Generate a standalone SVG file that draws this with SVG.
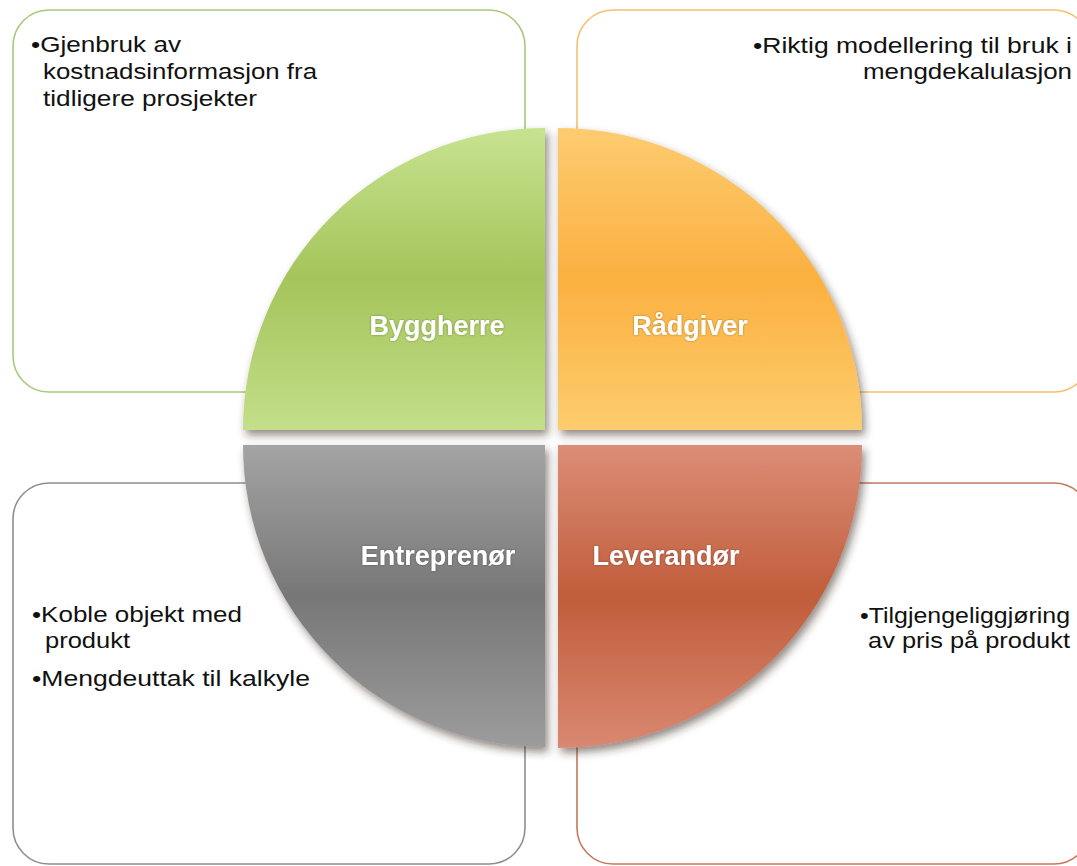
<svg xmlns="http://www.w3.org/2000/svg" width="1077" height="866" viewBox="0 0 1077 866">
  <defs>
    <linearGradient id="gGreen" x1="0" y1="0" x2="0" y2="1">
      <stop offset="0" stop-color="#c8e390"/>
      <stop offset="0.5" stop-color="#a5c45a"/>
      <stop offset="1" stop-color="#c3df8a"/>
    </linearGradient>
    <linearGradient id="gOrange" x1="0" y1="0" x2="0" y2="1">
      <stop offset="0" stop-color="#fdcc70"/>
      <stop offset="0.5" stop-color="#fbb040"/>
      <stop offset="1" stop-color="#fdcd6e"/>
    </linearGradient>
    <linearGradient id="gGray" x1="0" y1="0" x2="0" y2="1">
      <stop offset="0" stop-color="#a4a4a4"/>
      <stop offset="0.5" stop-color="#777777"/>
      <stop offset="1" stop-color="#9c9c9c"/>
    </linearGradient>
    <linearGradient id="gRed" x1="0" y1="0" x2="0" y2="1">
      <stop offset="0" stop-color="#dc8d77"/>
      <stop offset="0.5" stop-color="#c05d3b"/>
      <stop offset="1" stop-color="#da8872"/>
    </linearGradient>
    <filter id="shadow" x="-10%" y="-10%" width="125%" height="125%">
      <feDropShadow dx="3" dy="5" stdDeviation="4" flood-color="#3a2a20" flood-opacity="0.55"/>
    </filter>
    <filter id="tshadow" x="-10%" y="-20%" width="120%" height="140%">
      <feDropShadow dx="0" dy="0" stdDeviation="1" flood-color="#000000" flood-opacity="0.35"/>
    </filter>
  </defs>
  <style>
    .box { fill: #ffffff; stroke-width: 1.6; }
    .body { font-family: "Liberation Sans", Arial, sans-serif; font-size: 22.5px; fill: #111111; }
    .label { font-family: "Liberation Sans", "Open Sans", sans-serif; font-size: 27px; font-weight: bold; fill: #ffffff; text-anchor: middle; }
  </style>

  <g id="box-byggherre">
    <rect class="box" x="13" y="10" width="512" height="382" rx="36" ry="36" stroke="#a9c97a"/>
    <text class="body" x="31" y="52" textLength="150" lengthAdjust="spacingAndGlyphs">•Gjenbruk av</text>
    <text class="body" x="43" y="79" textLength="274" lengthAdjust="spacingAndGlyphs">kostnadsinformasjon fra</text>
    <text class="body" x="43" y="106" textLength="214" lengthAdjust="spacingAndGlyphs">tidligere prosjekter</text>
  </g>
  <g id="box-radgiver">
    <rect class="box" x="577" y="10" width="513" height="382" rx="36" ry="36" stroke="#f4c06f"/>
    <text class="body" x="753" y="53" textLength="319" lengthAdjust="spacingAndGlyphs">•Riktig modellering til bruk i</text>
    <text class="body" x="863" y="79" textLength="209" lengthAdjust="spacingAndGlyphs">mengdekalulasjon</text>
  </g>
  <g id="box-entreprenor">
    <rect class="box" x="13" y="483" width="512" height="381" rx="36" ry="36" stroke="#8e8e8e"/>
    <text class="body" x="32" y="622" textLength="210" lengthAdjust="spacingAndGlyphs">•Koble objekt med</text>
    <text class="body" x="45" y="648" textLength="85" lengthAdjust="spacingAndGlyphs">produkt</text>
    <text class="body" x="32" y="686" textLength="278" lengthAdjust="spacingAndGlyphs">•Mengdeuttak til kalkyle</text>
  </g>
  <g id="box-leverandor">
    <rect class="box" x="577" y="483" width="513" height="381" rx="36" ry="36" stroke="#c27a5e"/>
    <text class="body" x="860" y="623" textLength="210" lengthAdjust="spacingAndGlyphs">•Tilgjengeliggjøring</text>
    <text class="body" x="868" y="648" textLength="202" lengthAdjust="spacingAndGlyphs">av pris på produkt</text>
  </g>

  <g id="node-byggherre">
    <path d="M545,128 A302,302 0 0 0 243,430 L545,430 Z" fill="url(#gGreen)" filter="url(#shadow)"/>
    <text class="label" x="437" y="335" filter="url(#tshadow)">Byggherre</text>
  </g>
  <g id="node-radgiver">
    <path d="M558,128 A304,302 0 0 1 862,430 L558,430 Z" fill="url(#gOrange)" filter="url(#shadow)"/>
    <text class="label" x="690" y="335" filter="url(#tshadow)">Rådgiver</text>
  </g>
  <g id="node-entreprenor">
    <path d="M545,445 L243,445 A302,302 0 0 0 545,747 Z" fill="url(#gGray)" filter="url(#shadow)"/>
    <text class="label" x="438" y="565" filter="url(#tshadow)">Entreprenør</text>
  </g>
  <g id="node-leverandor">
    <path d="M558,445 L862,445 A304,303 0 0 1 558,748 Z" fill="url(#gRed)" filter="url(#shadow)"/>
    <text class="label" x="666" y="565" filter="url(#tshadow)">Leverandør</text>
  </g>

  <g id="connectors"></g>
</svg>
